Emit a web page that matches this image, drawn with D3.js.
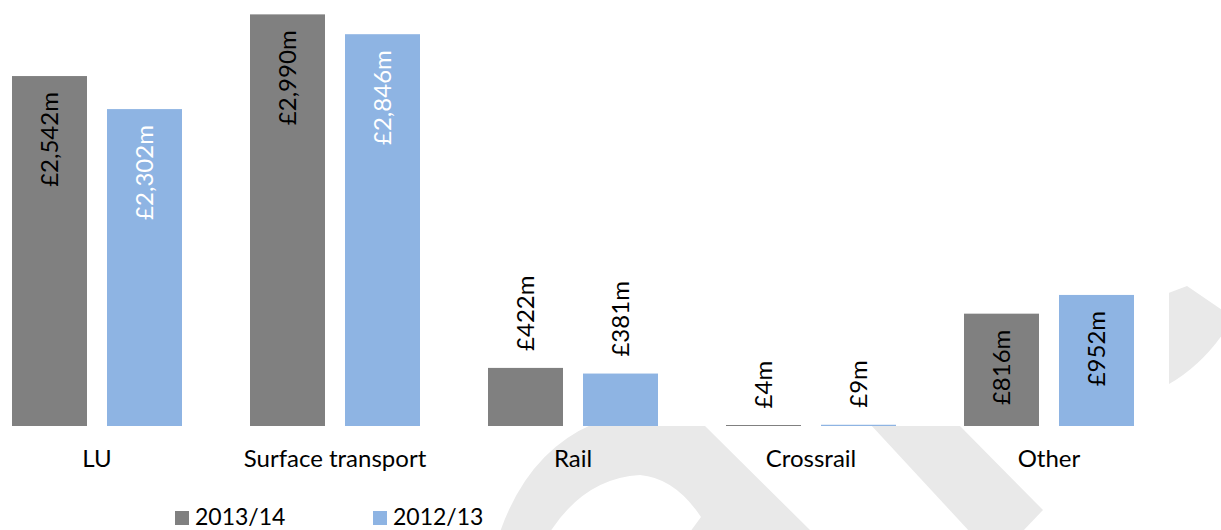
<!DOCTYPE html>
<html>
<head>
<meta charset="utf-8">
<script src="https://cdn.jsdelivr.net/npm/d3@7"></script>
<style>
  html, body { margin: 0; padding: 0; background: #fff; }
  svg { display: block; font-family: Lato, "Noto Sans", sans-serif; }
</style>
</head>
<body>
<div id="chart"></div>
<script>
// Data
const categories = ['LU', 'Surface transport', 'Rail', 'Crossrail', 'Other'];
const seriesNames = ['2013/14', '2012/13'];
const values2013 = [2542, 2990, 422, 4, 816];
const values2012 = [2302, 2846, 381, 9, 952];

const width = 1221;
const height = 530;
const colors = { '2013/14': '#808080', '2012/13': '#8eb4e3' };
const watermark = '#e9e9e9';

const svg = d3.select('#chart').append('svg')
  .attr('width', width)
  .attr('height', height);

// background watermark shapes (only the parts outside the plot area show)
const wm = svg.append('g').attr('fill', watermark);
wm.append('path')
  .attr('fill-rule', 'evenodd')
  .attr('d', 'M500,532 Q528,452 593,424 L703,424 L812,532 Z ' +
             'M550,532 Q585,478 640,475 Q675,478 701,517 L690,532 Z');
wm.append('path')
  .attr('d', 'M870,424 L958,424 L1043,510 L1022,532 L970,532 Z');
wm.append('path')
  .attr('d', 'M1150,300 L1187,286 L1222,310 L1222,335 Q1200,366 1169,384 L1150,390 Z');

// plot area
svg.append('rect')
  .attr('x', 0).attr('y', 0)
  .attr('width', 1169).attr('height', 426)
  .attr('fill', '#fff');

const x0 = d3.scaleBand()
  .domain(categories)
  .range([-22, 1168])
  .paddingInner(68 / 238)
  .paddingOuter(34 / 238);

const x1 = d3.scaleBand()
  .domain(seriesNames)
  .range([0, x0.bandwidth()])
  .paddingInner(20 / 95);

const y = d3.scaleLinear()
  .domain([0, 3000])
  .range([426, 13]);

const rows = categories.map((c, i) => ({
  category: c,
  values: [
    { series: '2013/14', value: values2013[i] },
    { series: '2012/13', value: values2012[i] }
  ]
}));

const fmt = v => '£' + d3.format(',')(v) + 'm';

const groups = svg.append('g')
  .selectAll('g')
  .data(rows)
  .enter()
  .append('g')
  .attr('transform', d => `translate(${x0(d.category)},0)`);

groups.selectAll('rect')
  .data(d => d.values)
  .enter()
  .append('rect')
  .attr('x', d => x1(d.series))
  .attr('width', x1.bandwidth())
  .attr('y', d => Math.min(y(d.value), y(0) - 1))
  .attr('height', d => Math.max(1, y(0) - y(d.value)))
  .attr('fill', d => colors[d.series]);

// value labels, rotated; inside end when the bar is tall enough
groups.selectAll('text')
  .data(d => d.values)
  .enter()
  .append('text')
  .each(function(d) {
    const inside = y(0) - y(d.value) > 100;
    const cx = x1(d.series) + x1.bandwidth() / 2;
    const ty = inside ? y(d.value) + 16 : y(d.value) - 17;
    d3.select(this)
      .attr('transform', `translate(${cx},${ty}) rotate(-90)`)
      .attr('text-anchor', inside ? 'end' : 'start')
      .attr('fill', inside && d.series === '2012/13' && d.value > 2000 ? '#fff' : '#000');
  })
  .attr('dy', '0.35em')
  .style('font-size', '24px')
  .text(d => fmt(d.value));

// category labels
svg.append('g')
  .selectAll('text')
  .data(categories)
  .enter()
  .append('text')
  .attr('x', d => x0(d) + x0.bandwidth() / 2)
  .attr('y', 467)
  .attr('text-anchor', 'middle')
  .style('font-size', '24px')
  .attr('fill', '#000')
  .text(d => d);

// legend
const legend = svg.append('g')
  .selectAll('g')
  .data(seriesNames)
  .enter()
  .append('g')
  .attr('transform', (d, i) => `translate(${175 + i * 198},0)`);

legend.append('rect')
  .attr('x', 0).attr('y', 511)
  .attr('width', 14).attr('height', 14)
  .attr('fill', d => colors[d]);

legend.append('text')
  .attr('x', 20)
  .attr('y', 525)
  .style('font-size', '23px')
  .attr('fill', '#000')
  .text(d => d);
</script>
</body>
</html>
